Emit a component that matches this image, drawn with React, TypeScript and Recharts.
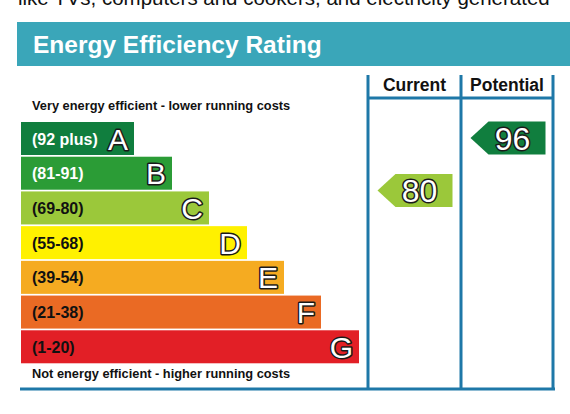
// @ts-nocheck
import React from 'react'
import { ComposedChart, Bar, Scatter, XAxis, YAxis } from 'recharts'

const bands = ['A', 'B', 'C', 'D', 'E', 'F', 'G']
const ranges = ['(92 plus)', '(81-91)', '(69-80)', '(55-68)', '(39-54)', '(21-38)', '(1-20)']
const barLengths = [113, 151, 188, 226, 263, 300, 338]
const bandColors = ['#107e3e', '#2b9c36', '#9bc83a', '#fff100', '#f5ab21', '#ea6a24', '#e21f26']
const labelInk = ['#ffffff', '#ffffff', '#111111', '#111111', '#111111', '#111111', '#111111']

const columns = ['Current', 'Potential']
const ratings = [80, 96]
const ratingBands = ['C', 'A']

const bandData = bands.map((b, i) => ({
  band: b, range: ranges[i], length: barLengths[i], color: bandColors[i], ink: labelInk[i],
}))
const arrowData = columns.map((c, i) => ({
  col: c, rating: ratings[i], color: bandColors[bands.indexOf(ratingBands[i])],
}))

const FONT = '"Liberation Sans", Arial, Helvetica, sans-serif'
const FRAME = '#1e78a8'

function BandShape(props) {
  const { x, y, width, height, payload } = props
  const mid = y + height / 2
  return (
    <g>
      <rect x={x} y={y} width={width} height={height} fill={payload.color} />
      <text x={x + 11} y={mid + 6} fontFamily={FONT} fontWeight="bold" fontSize={16} fill={payload.ink}>
        {payload.range}
      </text>
      <text x={x + width - 6} y={mid + 11} textAnchor="end" fontFamily={FONT} fontSize={30}
        fill="#ffffff" stroke="#1a1a1a" strokeWidth={3} paintOrder="stroke" strokeLinejoin="round">
        {payload.band}
      </text>
    </g>
  )
}

function ArrowShape(props) {
  const { cx, cy, payload } = props
  const left = cx - 36
  const tip = 18
  const w = 75
  const h = 33
  const pts = [
    [left, cy], [left + tip, cy - h / 2], [left + w, cy - h / 2],
    [left + w, cy + h / 2], [left + tip, cy + h / 2],
  ].map((p) => p.join(',')).join(' ')
  return (
    <g>
      <polygon points={pts} fill={payload.color} />
      <text x={cx + 6} y={cy + 11.5} textAnchor="middle" fontFamily={FONT} fontSize={32}
        fill="#ffffff" stroke="#1a1a1a" strokeWidth={3} paintOrder="stroke" strokeLinejoin="round">
        {payload.rating}
      </text>
    </g>
  )
}

export default function App() {
  return (
    <div style={{ position: 'absolute', left: 0, top: 0, width: 570, height: 414, background: '#fff', overflow: 'hidden' }}>
      <svg width={570} height={414} style={{ position: 'absolute', left: 0, top: 0 }}>
        <text x={18} y={5} fontFamily={FONT} fontSize={20.5} fill="#111">
          like TVs, computers and cookers, and electricity generated
        </text>
        <rect x={17} y={22} width={553} height={44} fill="#3aa6b9" />
        <text x={33} y={53} fontFamily={FONT} fontWeight="bold" fontSize={24.5} fill="#ffffff">
          Energy Efficiency Rating
        </text>
        <g stroke={FRAME} strokeWidth={3} fill="none">
          <line x1={368} y1={75} x2={368} y2={390} />
          <line x1={461} y1={75} x2={461} y2={390} />
          <line x1={553} y1={75} x2={553} y2={390} />
          <line x1={368} y1={98} x2={553} y2={98} />
          <line x1={20} y1={389} x2={555} y2={389} />
        </g>
        <text x={414.5} y={91} textAnchor="middle" fontFamily={FONT} fontWeight="bold" fontSize={17.5} fill="#111">
          Current
        </text>
        <text x={507} y={91} textAnchor="middle" fontFamily={FONT} fontWeight="bold" fontSize={17.5} fill="#111">
          Potential
        </text>
        <text x={32} y={110} fontFamily={FONT} fontWeight="bold" fontSize={12.8} fill="#111">
          Very energy efficient - lower running costs
        </text>
        <text x={32} y={378} fontFamily={FONT} fontWeight="bold" fontSize={12.8} fill="#111">
          Not energy efficient - higher running costs
        </text>
      </svg>
      <div style={{ position: 'absolute', left: 0, top: 0 }}>
        <ComposedChart width={570} height={414} layout="vertical" data={bandData}
          margin={{ top: 121, right: 0, bottom: 50, left: 21 }} barCategoryGap={1}>
          <XAxis xAxisId="len" type="number" domain={[0, 549]} allowDataOverflow hide />
          <XAxis xAxisId="col" type="category" dataKey="col" allowDuplicatedCategory={false}
            padding={{ left: 346, right: 17 }} hide />
          <YAxis yAxisId="band" type="category" dataKey="band" hide />
          <YAxis yAxisId="rating" type="number" dataKey="rating" domain={[27.2, 101.2]} reversed
            allowDataOverflow hide />
          <Bar xAxisId="len" yAxisId="band" dataKey="length" shape={BandShape} isAnimationActive={false} />
          <Scatter xAxisId="col" yAxisId="rating" data={arrowData} dataKey="rating" shape={ArrowShape}
            isAnimationActive={false} />
        </ComposedChart>
      </div>
    </div>
  )
}
